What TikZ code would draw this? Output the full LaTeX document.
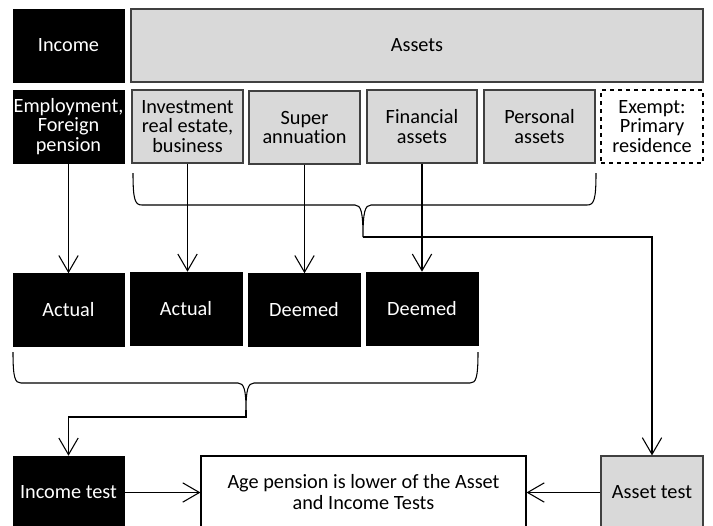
\documentclass[tikz,border=0pt]{standalone}
\usepackage{fontspec}
\setmainfont{Carlito}[Ligatures=NoCommon]
\usetikzlibrary{arrows.meta}
\definecolor{boxgray}{HTML}{D9D9D9}
\definecolor{edgegray}{HTML}{404040}

\tikzset{
  box/.style={rectangle, inner sep=0pt, align=center,
    minimum width=83.25pt, minimum height=54.75pt,
    font=\fontsize{15.2}{14.6}\selectfont},
  dark/.style={box, fill=black, draw=black, text=white},
  light/.style={box, fill=boxgray, draw=edgegray, line width=0.9pt},
  plain/.style={box, fill=white, draw=black, line width=0.8pt},
  flow/.style={-{Straight Barb[length=12.5pt,width=14.5pt]}, line width=0.8pt},
  curly/.style={line width=0.8pt}
}

\begin{document}
\begin{tikzpicture}[x=0.75pt, y=-0.75pt]
        \useasboundingbox (0,0) rectangle (713,525);
        \clip (0,0) rectangle (713,525);

        % top rows
        \node[dark] (income) at (68.5,45.5) {Income};
        \node[light, minimum width=429pt] (assets) at (417,45.5) {Assets};

        \node[dark] (employ) at (68.5,126.5) {Employment,\\Foreign\\pension};
        \node[light] (invest) at (187.5,126.5) {Investment\\real estate,\\business};
        \node[light] (super) at (304.5,127.5) {Super\\annuation};
        \node[light, minimum width=82.5pt] (financial) at (422,126.5) {Financial\\assets};
        \node[light] (personal) at (539.5,126.5) {Personal\\assets};
        \node[plain, dashed, minimum width=76.5pt] (exempt) at (652,126.5) {Exempt:\\Primary\\residence};

        % income streams
        \node[dark] (actual1) at (68.5,310) {Actual};
        \node[dark, minimum width=84pt] (actual2) at (186,308.5) {Actual};
        \node[dark, minimum width=84pt] (deemed1) at (304,310) {Deemed};
        \node[dark, minimum width=84pt] (deemed2) at (422,308.5) {Deemed};

        % tests
        \node[dark] (inctest) at (68.5,492.5) {Income test};
        \node[plain, minimum width=243.75pt, font=\fontsize{15.2}{15.75}\selectfont] (pension) at (363.5,492.5) {Age pension is lower of the Asset\\and Income Tests};
        \node[light, minimum width=76.5pt] (asstest) at (652,492.5) {Asset test};

        \draw[flow] (employ.south) -- (actual1.north);
        \draw[flow] (invest.south) -- (invest.south |- actual2.north);
        \draw[flow] (super.south) -- (super.south |- deemed1.north);
        \draw[flow] (financial.south) -- (financial.south |- deemed2.north);

        % braces
        \coordinate (atip) at (363,237);
        \draw[curly] (133,173) .. controls (133,200) and (135,205) .. (142,205) -- (355,205)
            .. controls (361,205) and (363,212) .. (atip)
            .. controls (363,212) and (365,205) .. (371,205) -- (587,205)
            .. controls (594,205) and (596,200) .. (596,173);
        \draw[flow] (atip) -| (asstest.north);

        \coordinate (itip) at (246,410);
        \draw[curly] (13,352) .. controls (13,378) and (15,383) .. (21,383) -- (238,383)
            .. controls (244,383) and (246,390) .. (itip)
            .. controls (246,390) and (248,383) .. (254,383) -- (470,383)
            .. controls (476,383) and (478,378) .. (478,352);
        \draw[flow] (itip) -- ++(0,7) -| (inctest.north);

        \draw[flow] (inctest.east) -- (pension.west);
        \draw[flow] (asstest.west) -- (pension.east);
    \end{tikzpicture}
\end{document}
